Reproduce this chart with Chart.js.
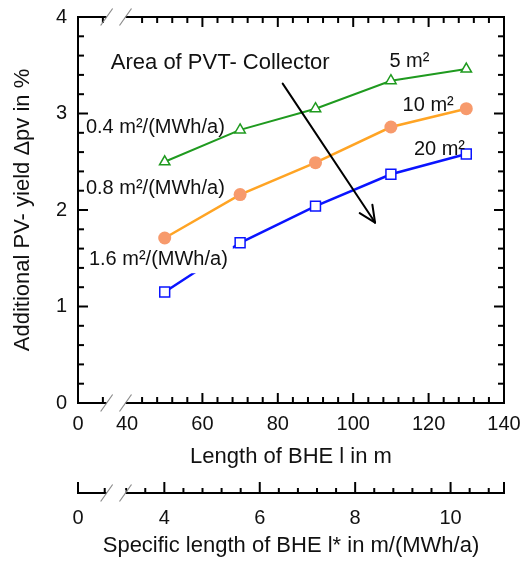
<!DOCTYPE html>
<html>
<head>
<meta charset="utf-8">
<script src="https://cdn.jsdelivr.net/npm/chart.js@4/dist/chart.umd.min.js"></script>
<style>
    html, body { margin: 0; padding: 0; background: #fff; }
</style>
</head>
<body>
<canvas id="pvChart" width="525" height="562"></canvas>
<script>
// values
const bheLength = [50, 70, 90, 110, 130];
const yield5m2 = [2.50, 2.83, 3.05, 3.34, 3.46];
const yield10m2 = [1.71, 2.16, 2.49, 2.86, 3.05];
const yield20m2 = [1.15, 1.66, 2.04, 2.37, 2.58];

const lengthTicks = [40, 60, 80, 100, 120, 140];
const specificTicks = [4, 6, 8, 10];
const yieldTicks = [0, 1, 2, 3, 4];
const breakLabel = "0";

// broken axis: left edge stands for 0
const lengthMin = 27, lengthMax = 140;
const specificMin = 2.19, specificMax = 11.12;
const breakFrom = 34.6, breakTo = 39.6;

const FONT = "'Liberation Sans', Arial, sans-serif";
const INK = "#111";

const notes = [
    { text: "Area of PVT- Collector", x: 35.7, y: 3.52, size: 22 },
    { text: "5 m²", x: 109.6, y: 3.54, size: 20 },
    { text: "10 m²", x: 113.1, y: 3.08, size: 20 },
    { text: "20 m²", x: 116.1, y: 2.63, size: 20 },
    { text: "0.4 m²/(MWh/a)", x: 29.1, y: 2.86, size: 20 },
    { text: "0.8 m²/(MWh/a)", x: 29.1, y: 2.22, size: 20 },
    { text: "1.6 m²/(MWh/a)", x: 29.9, y: 1.49, size: 20, boxed: true },
];
const arrowFrom = { x: 81.3, y: 3.31 };
const arrowTo = { x: 105.8, y: 1.87 };

function stepList(from, to, step, skip) {
    const out = [];
    for (let v = from; v <= to + 1e-9; v += step) {
        const r = Math.round(v * 100) / 100;
        if (!skip.some((s) => Math.abs(s - r) < 1e-6)) out.push(r);
    }
    return out;
}

const lengthMinor = [33.6].concat(stepList(44, 136, 4, lengthTicks));
const specificMinor = [2.75].concat(stepList(3.2, 10.8, 0.4, specificTicks));
const yieldMinor = stepList(0.2, 3.8, 0.2, yieldTicks);

function toPoints(ys) {
    return bheLength.map((x, i) => ({ x: x, y: ys[i] }));
}

function line(ctx, x1, y1, x2, y2) {
    ctx.beginPath();
    ctx.moveTo(x1, y1);
    ctx.lineTo(x2, y2);
    ctx.stroke();
}

function breakMarks(ctx, a, b, y) {
    ctx.fillStyle = "#fff";
    ctx.fillRect(a, y - 3, b - a, 6);
    ctx.strokeStyle = "#8a8a8a";
    ctx.lineWidth = 1.2;
    line(ctx, a - 6, y + 8.5, a + 6, y - 8.5);
    line(ctx, b - 6, y + 8.5, b + 6, y - 8.5);
}

const axisDecor = {
    id: "axisDecor",
    afterDatasetsDraw(chart) {
        const { ctx } = chart;
        const xs = chart.scales.x, ys = chart.scales.y;
        ctx.save();
        ctx.textBaseline = "middle";
        ctx.textAlign = "left";
        notes.forEach((n) => {
            ctx.font = n.size + "px " + FONT;
            const px = xs.getPixelForValue(n.x);
            const py = ys.getPixelForValue(n.y);
            if (n.boxed) {
                const w = ctx.measureText(n.text).width;
                ctx.fillStyle = "#fff";
                ctx.fillRect(px - 3, py - 13, w + 8, 27);
            }
            ctx.fillStyle = INK;
            ctx.fillText(n.text, px, py);
        });

        // arrow
        const x1 = xs.getPixelForValue(arrowFrom.x), y1 = ys.getPixelForValue(arrowFrom.y);
        const x2 = xs.getPixelForValue(arrowTo.x), y2 = ys.getPixelForValue(arrowTo.y);
        const ang = Math.atan2(y2 - y1, x2 - x1);
        const head = 18, spread = 25 * Math.PI / 180;
        ctx.strokeStyle = "#000";
        ctx.lineWidth = 2;
        ctx.lineCap = "round";
        line(ctx, x1, y1, x2, y2);
        line(ctx, x2, y2, x2 - head * Math.cos(ang - spread), y2 - head * Math.sin(ang - spread));
        line(ctx, x2, y2, x2 - head * Math.cos(ang + spread), y2 - head * Math.sin(ang + spread));
        ctx.restore();
    },
    afterDraw(chart) {
        const { ctx, chartArea: area } = chart;
        const xs = chart.scales.x, ys = chart.scales.y, xs2 = chart.scales.x2;
        ctx.save();
        ctx.strokeStyle = "#000";
        ctx.lineWidth = 2;
        ctx.lineCap = "butt";

        // top and right frame
        line(ctx, area.left - 1, area.top, area.right + 1, area.top);
        line(ctx, area.right, area.top, area.right, area.bottom);

        // inward ticks on all four sides
        const inGap = (v) => v > breakFrom - 0.6 && v < breakTo + 1.5;
        const hTicks = (vals, len) => vals.forEach((v) => {
            if (inGap(v)) return;
            const px = xs.getPixelForValue(v);
            line(ctx, px, area.bottom, px, area.bottom - len);
            line(ctx, px, area.top, px, area.top + len);
        });
        const vTicks = (vals, len) => vals.forEach((v) => {
            const py = ys.getPixelForValue(v);
            line(ctx, area.left, py, area.left + len, py);
            line(ctx, area.right, py, area.right - len, py);
        });
        hTicks(lengthTicks, 10);
        hTicks(lengthMinor, 6);
        vTicks(yieldTicks, 10);
        vTicks(yieldMinor, 6);

        // second (specific length) axis: baseline with upward ticks
        const base = xs2.top + 21;
        line(ctx, area.left - 1, base, area.right + 1, base);
        line(ctx, area.left, base, area.left, base - 11);
        line(ctx, area.right, base, area.right, base - 11);
        specificTicks.forEach((v) => {
            const px = xs2.getPixelForValue(v);
            line(ctx, px, base, px, base - 11);
        });
        specificMinor.forEach((v) => {
            const px = xs2.getPixelForValue(v);
            line(ctx, px, base, px, base - 5);
        });

        // axis breaks
        const ga = xs.getPixelForValue(breakFrom), gb = xs.getPixelForValue(breakTo);
        breakMarks(ctx, ga, gb, area.top);
        breakMarks(ctx, ga, gb, area.bottom);
        breakMarks(ctx, ga, gb, base);
        ctx.restore();
    },
};

function fixedTicks(values) {
    return (scale) => {
        scale.ticks = [scale.min].concat(values).map((v) => ({ value: v }));
    };
}

// fixed box sizes, no label overhang padding (layout.padding decides)
function fixedSize(w, h) {
    return (s) => {
        if (w) s.width = w;
        if (h) s.height = h;
        s.paddingLeft = s.paddingRight = s.paddingTop = s.paddingBottom = 0;
    };
}

new Chart(document.getElementById("pvChart"), {
    type: "line",
    data: {
        datasets: [
            {
                label: "5 m²",
                data: toPoints(yield5m2),
                borderColor: "#1f9a1f",
                borderWidth: 2,
                pointStyle: "triangle",
                pointRadius: 6,
                pointBorderWidth: 1.5,
                pointBackgroundColor: "#fff",
                pointBorderColor: "#1f9a1f",
            },
            {
                label: "10 m²",
                data: toPoints(yield10m2),
                borderColor: "#ffa424",
                borderWidth: 2.5,
                pointStyle: "circle",
                pointRadius: 6.5,
                pointBorderWidth: 0,
                pointBackgroundColor: "#f79a6c",
                pointBorderColor: "#f79a6c",
            },
            {
                label: "20 m²",
                data: toPoints(yield20m2),
                borderColor: "#0a14ff",
                borderWidth: 2.5,
                pointStyle: "rect",
                pointRadius: 7,
                pointBorderWidth: 1.5,
                pointBackgroundColor: "#fff",
                pointBorderColor: "#0a14ff",
            },
        ],
    },
    options: {
        responsive: false,
        animation: false,
        layout: { padding: { top: 17, right: 21, left: 0, bottom: 0 } },
        plugins: {
            legend: { display: false },
            tooltip: { enabled: false },
        },
        scales: {
            x: {
                type: "linear",
                position: "bottom",
                min: lengthMin,
                max: lengthMax,
                afterBuildTicks: fixedTicks(lengthTicks),
                afterFit: fixedSize(0, 69),
                grid: { display: false, drawTicks: false },
                border: { display: true, color: "#000", width: 2 },
                ticks: {
                    padding: 9,
                    color: INK,
                    font: { family: FONT, size: 20 },
                    maxRotation: 0,
                    autoSkip: false,
                    callback: (v) => (v === lengthMin ? breakLabel : String(v)),
                },
                title: {
                    display: true,
                    text: "Length of BHE l in m",
                    color: INK,
                    font: { family: FONT, size: 22 },
                    padding: { top: 0, bottom: 1.8 },
                },
            },
            x2: {
                type: "linear",
                position: "bottom",
                min: specificMin,
                max: specificMax,
                afterBuildTicks: fixedTicks(specificTicks),
                afterFit: fixedSize(0, 90),
                grid: { display: false, drawTicks: false },
                border: { display: false },
                ticks: {
                    padding: 34,
                    color: INK,
                    font: { family: FONT, size: 20 },
                    maxRotation: 0,
                    autoSkip: false,
                    callback: (v) => (v === specificMin ? breakLabel : String(v)),
                },
                title: {
                    display: true,
                    text: "Specific length of BHE l* in m/(MWh/a)",
                    color: INK,
                    font: { family: FONT, size: 22 },
                    padding: { top: 0, bottom: 2.8 },
                },
            },
            y: {
                type: "linear",
                position: "left",
                min: 0,
                max: 4,
                afterBuildTicks: (s) => { s.ticks = yieldTicks.map((v) => ({ value: v })); },
                afterFit: fixedSize(78, 0),
                grid: { display: false, drawTicks: false },
                border: { display: true, color: "#000", width: 2 },
                ticks: {
                    padding: 11,
                    color: INK,
                    font: { family: FONT, size: 20 },
                },
                title: {
                    display: true,
                    text: "Additional PV- yield Δpv in %",
                    color: INK,
                    font: { family: FONT, size: 22 },
                    padding: { top: 10, bottom: 0 },
                },
            },
        },
    },
    plugins: [axisDecor],
});
</script>
</body>
</html>
